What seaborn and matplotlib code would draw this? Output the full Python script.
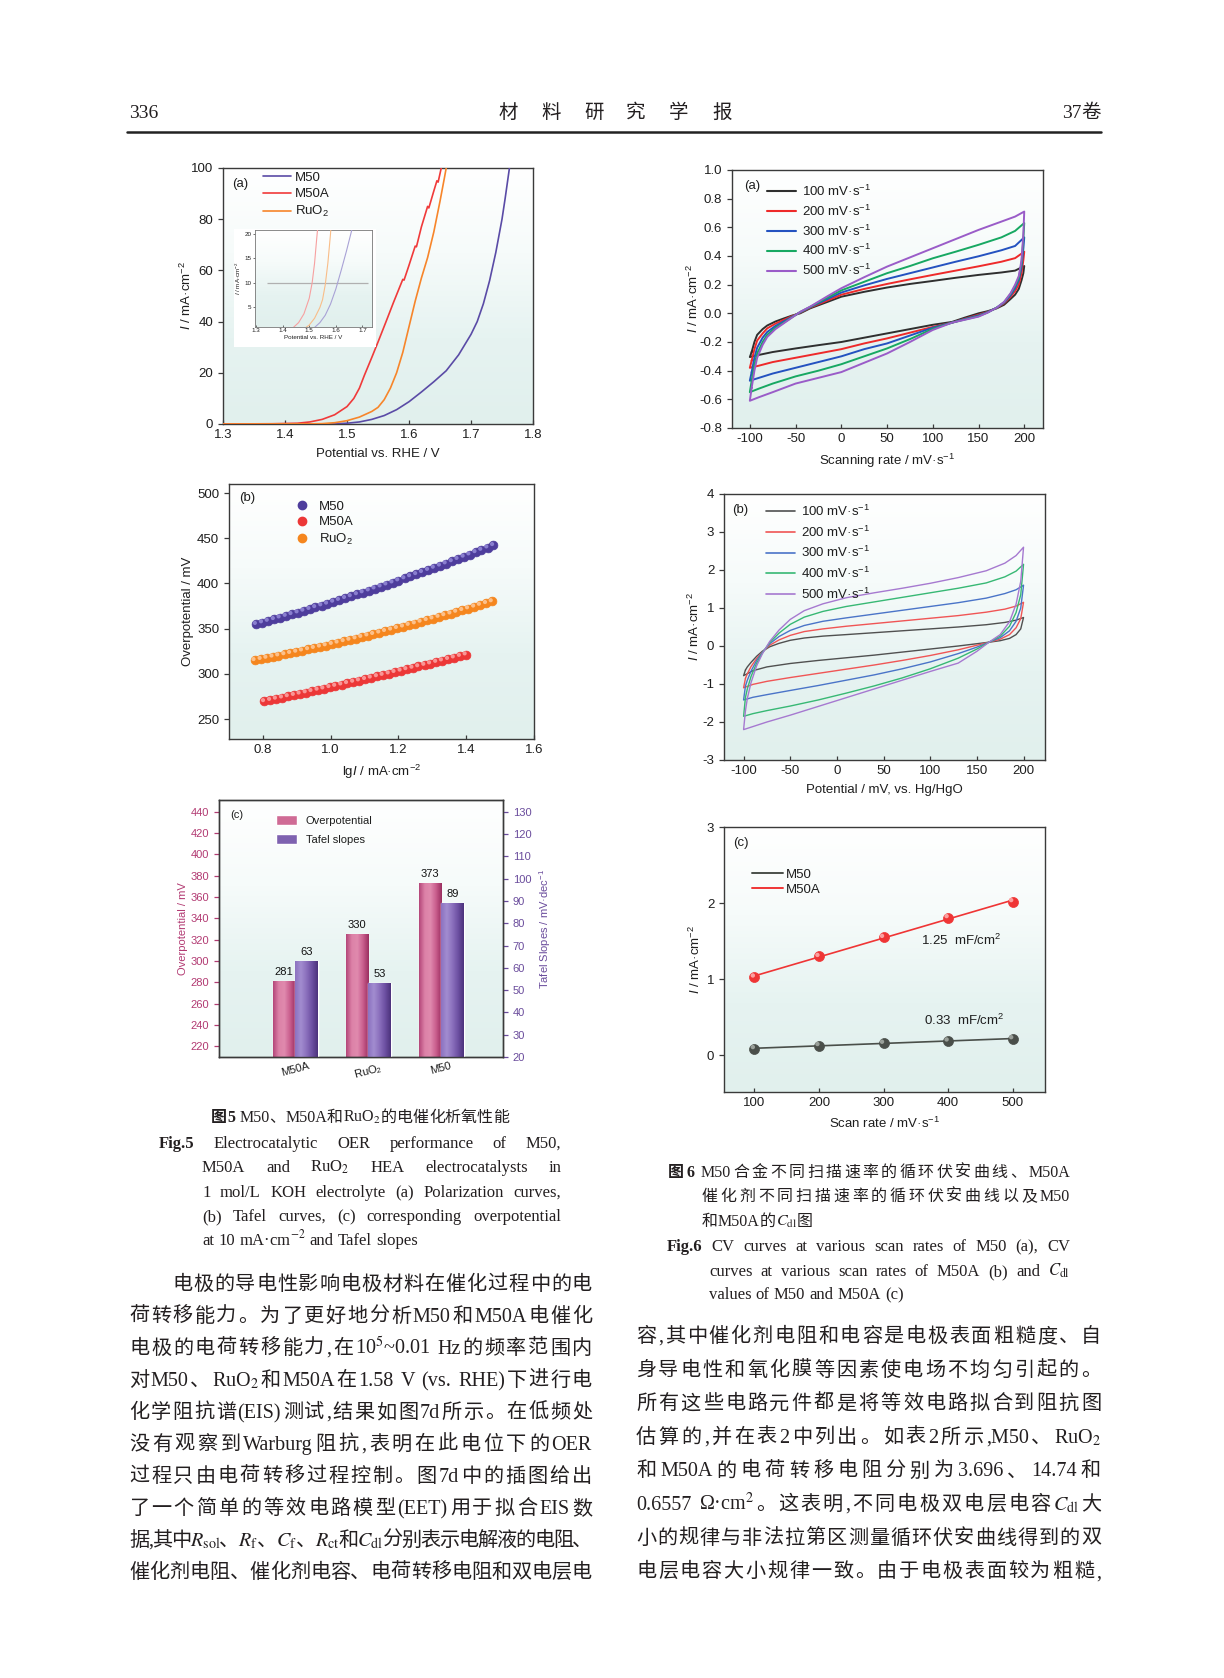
import numpy as np
import pandas as pd
import matplotlib
matplotlib.use("Agg")
import matplotlib.pyplot as plt
import seaborn as sns
from matplotlib.colors import LinearSegmentedColormap
from matplotlib.lines import Line2D
from matplotlib.patches import Patch, Rectangle
from matplotlib.transforms import ScaledTranslation

# ======================= DATA =======================
# Fig.5(a) polarization curves (potential V vs RHE, current mA/cm2)
pol_m50a_v = [1.30, 1.38, 1.42, 1.44, 1.46, 1.48, 1.50, 1.511, 1.52, 1.528, 1.54, 1.55, 1.563, 1.575, 1.585,
              1.590, 1.592, 1.600, 1.610, 1.612, 1.620, 1.630, 1.632, 1.640, 1.645, 1.647, 1.652]
pol_m50a_i = [0, 0.1, 0.3, 0.8, 1.8, 3.6, 6.8, 10, 14, 19, 26, 32, 40, 47.5, 53.5,
              56.5, 56.2, 62, 69.5, 69.2, 77, 85, 84.4, 91, 95, 94.5, 100]
pol_ruo2_v = [1.30, 1.44, 1.46, 1.48, 1.50, 1.52, 1.54, 1.55, 1.56, 1.57, 1.58, 1.59, 1.60, 1.61, 1.62,
              1.63, 1.64, 1.65, 1.657, 1.66]
pol_ruo2_i = [0, 0.05, 0.15, 0.5, 1.3, 2.7, 4.9, 6.5, 9.5, 14, 20, 28, 38, 48, 57, 65, 75, 87, 96, 100]
pol_m50_v = [1.30, 1.45, 1.48, 1.50, 1.52, 1.54, 1.56, 1.58, 1.60, 1.62, 1.64, 1.66, 1.68, 1.70, 1.71,
             1.72, 1.73, 1.74, 1.75, 1.755, 1.762]
pol_m50_i = [0, 0.02, 0.1, 0.3, 0.8, 1.8, 3.3, 5.6, 8.7, 12.5, 16.5, 20.8, 27, 35, 40,
             47, 56, 67, 80, 88, 100]

# Fig.5(b) Tafel plots (lg I, overpotential mV)
taf_m50_x = [0.780, 0.798, 0.815, 0.833, 0.850, 0.868, 0.885, 0.903, 0.920, 0.938, 0.955, 0.973, 0.990, 1.008,
             1.025, 1.043, 1.060, 1.078, 1.095, 1.113, 1.130, 1.148, 1.165, 1.183, 1.200, 1.218, 1.235, 1.253,
             1.270, 1.288, 1.305, 1.323, 1.340, 1.358, 1.375, 1.393, 1.410, 1.428, 1.445, 1.463, 1.480]
taf_m50_y = [355.0, 356.8, 358.5, 360.4, 362.2, 364.0, 365.9, 367.8, 369.7, 371.6, 373.6, 375.6, 377.5, 379.6,
             381.6, 383.7, 385.7, 387.9, 390.0, 392.1, 394.3, 396.5, 398.7, 400.9, 403.2, 405.5, 407.8, 410.1,
             412.4, 414.8, 417.2, 419.6, 422.0, 424.4, 426.9, 429.4, 431.9, 434.4, 437.0, 439.6, 442.2]
taf_ruo2_x = [0.776, 0.794, 0.811, 0.829, 0.846, 0.864, 0.881, 0.899, 0.916, 0.934, 0.951, 0.969, 0.986, 1.004,
              1.021, 1.039, 1.056, 1.074, 1.091, 1.109, 1.126, 1.144, 1.161, 1.179, 1.196, 1.214, 1.231, 1.249,
              1.266, 1.284, 1.301, 1.319, 1.336, 1.354, 1.371, 1.389, 1.406, 1.424, 1.441, 1.459, 1.476]
taf_ruo2_y = [315.0, 316.3, 317.6, 318.9, 320.2, 321.5, 322.9, 324.3, 325.7, 327.1, 328.5, 330.0, 331.4, 332.9,
              334.4, 336.0, 337.5, 339.1, 340.7, 342.3, 343.9, 345.5, 347.2, 348.8, 350.5, 352.2, 354.0, 355.7,
              357.5, 359.3, 361.1, 362.9, 364.7, 366.6, 368.5, 370.4, 372.3, 374.2, 376.2, 378.1, 380.1]
taf_m50a_x = [0.804, 0.822, 0.839, 0.857, 0.874, 0.892, 0.909, 0.927, 0.944, 0.962, 0.979, 0.997, 1.014, 1.032,
              1.049, 1.067, 1.084, 1.102, 1.119, 1.137, 1.154, 1.172, 1.189, 1.207, 1.224, 1.242, 1.259, 1.277,
              1.294, 1.312, 1.329, 1.347, 1.364, 1.382, 1.399]
taf_m50a_y = [269.6, 271.0, 272.4, 273.7, 275.1, 276.5, 278.0, 279.4, 280.8, 282.3, 283.7, 285.2, 286.6, 288.1,
              289.6, 291.1, 292.6, 294.1, 295.7, 297.2, 298.7, 300.3, 301.9, 303.4, 305.0, 306.6, 308.2, 309.8,
              311.4, 313.1, 314.7, 316.3, 318.0, 319.7, 321.3]

# Fig.5(c) bars
bar_cats = ["M50A", "RuO$_2$", "M50"]
bar_overpot = [281, 325, 373]
bar_overpot_labels = ["281", "330", "373"]
bar_tafel = [63, 53, 89]

# Fig.6(a) CV of M50 (potential mV, current mA/cm2): anodic branch then cathodic branch
cva_up_pot = [-98, -95, -92, -86, -81, -72, -63, -54, -45, -34, -15, 0, 25, 50, 75, 100, 125, 150, 175, 190, 200]
cva_dn_pot = [199, 197, 194, 190, 185, 178, 170, 160, 150, 135, 121, 100, 75, 50, 25, 0, -25, -50, -75, -90, -100]
cva_100_up = [-0.27, -0.20, -0.15, -0.11, -0.085, -0.057, -0.036, -0.016, 0.0, 0.035, 0.08, 0.116, 0.15, 0.18, 0.205,
              0.226, 0.248, 0.268, 0.285, 0.298, 0.33]
cva_200_up = [-0.33, -0.25, -0.19, -0.14, -0.105, -0.072, -0.046, -0.02, 0.005, 0.04, 0.09, 0.13, 0.17, 0.205, 0.237,
              0.268, 0.298, 0.328, 0.36, 0.385, 0.43]
cva_300_up = [-0.41, -0.31, -0.24, -0.17, -0.13, -0.088, -0.056, -0.025, 0.007, 0.043, 0.10, 0.145, 0.195, 0.24,
              0.28, 0.32, 0.36, 0.398, 0.44, 0.47, 0.53]
cva_400_up = [-0.47, -0.36, -0.28, -0.20, -0.15, -0.10, -0.065, -0.028, 0.009, 0.045, 0.11, 0.16, 0.22, 0.28, 0.33,
              0.384, 0.43, 0.478, 0.53, 0.575, 0.63]
cva_500_up = [-0.52, -0.40, -0.31, -0.22, -0.165, -0.11, -0.07, -0.03, 0.01, 0.047, 0.12, 0.175, 0.252, 0.326, 0.39,
              0.454, 0.518, 0.582, 0.64, 0.675, 0.71]
cva_100_dn = [0.28, 0.23, 0.17, 0.13, 0.10, 0.06, 0.035, 0.015, 0.0, -0.03, -0.06, -0.08, -0.11, -0.14, -0.17, -0.2,
              -0.222, -0.245, -0.27, -0.29, -0.305]
cva_200_dn = [0.37, 0.28, 0.2, 0.155, 0.115, 0.07, 0.038, 0.01, -0.01, -0.038, -0.065, -0.095, -0.135, -0.175, -0.21,
              -0.25, -0.28, -0.31, -0.34, -0.365, -0.38]
cva_300_dn = [0.45, 0.32, 0.23, 0.175, 0.125, 0.075, 0.04, 0.008, -0.015, -0.04, -0.065, -0.10, -0.155, -0.21, -0.25,
              -0.30, -0.34, -0.38, -0.42, -0.45, -0.47]
cva_400_dn = [0.52, 0.35, 0.245, 0.19, 0.135, 0.078, 0.04, 0.006, -0.02, -0.043, -0.065, -0.108, -0.18, -0.245, -0.30,
              -0.355, -0.40, -0.44, -0.49, -0.525, -0.55]
cva_500_dn = [0.55, 0.37, 0.26, 0.20, 0.14, 0.08, 0.04, 0.005, -0.023, -0.045, -0.065, -0.116, -0.20, -0.28, -0.345,
              -0.41, -0.45, -0.49, -0.55, -0.585, -0.61]

# Fig.6(b) CV of M50A
cvb_up_pot = [-98, -96, -92, -86, -80, -72, -62, -50, -35, -15, 10, 40, 70, 100, 130, 160, 180, 192, 200]
cvb_dn_pot = [197, 192, 185, 175, 163, 150, 130, 100, 70, 40, 10, -20, -50, -75, -90, -100]
cvb_100_up = [-0.63, -0.55, -0.43, -0.27, -0.14, -0.02, 0.07, 0.15, 0.21, 0.26, 0.30, 0.35, 0.40, 0.45, 0.50, 0.56,
              0.62, 0.68, 0.75]
cvb_200_up = [-0.85, -0.73, -0.54, -0.33, -0.16, 0.02, 0.16, 0.28, 0.38, 0.45, 0.52, 0.59, 0.66, 0.73, 0.80, 0.89,
              0.97, 1.05, 1.15]
cvb_300_up = [-1.05, -0.90, -0.66, -0.38, -0.17, 0.06, 0.25, 0.41, 0.54, 0.65, 0.74, 0.84, 0.94, 1.04, 1.14, 1.26,
              1.38, 1.48, 1.60]
cvb_400_up = [-1.35, -1.13, -0.80, -0.45, -0.19, 0.09, 0.34, 0.57, 0.76, 0.91, 1.04, 1.16, 1.28, 1.40, 1.52, 1.66,
              1.82, 1.97, 2.15]
cvb_500_up = [-1.70, -1.38, -0.96, -0.52, -0.21, 0.12, 0.42, 0.70, 0.93, 1.11, 1.27, 1.40, 1.52, 1.65, 1.80, 1.98,
              2.18, 2.38, 2.60]
cvb_100_dn = [0.45, 0.30, 0.20, 0.14, 0.10, 0.06, 0.0, -0.08, -0.16, -0.24, -0.31, -0.38, -0.46, -0.55, -0.65, -0.78]
cvb_200_dn = [0.72, 0.48, 0.30, 0.18, 0.10, 0.02, -0.10, -0.25, -0.38, -0.50, -0.61, -0.72, -0.83, -0.93, -1.01, -1.10]
cvb_300_dn = [1.00, 0.65, 0.40, 0.22, 0.10, -0.03, -0.20, -0.42, -0.60, -0.76, -0.90, -1.04, -1.17, -1.28, -1.35, -1.42]
cvb_400_dn = [1.35, 0.88, 0.52, 0.26, 0.10, -0.08, -0.32, -0.60, -0.84, -1.05, -1.24, -1.42, -1.58, -1.70, -1.78, -1.85]
cvb_500_dn = [1.70, 1.10, 0.64, 0.30, 0.10, -0.14, -0.45, -0.67, -0.90, -1.13, -1.36, -1.59, -1.82, -2.00, -2.12, -2.20]

cv_rates = ["100", "200", "300", "400", "500"]

# Fig.6(c) Cdl
cdl_rate = [100, 200, 300, 400, 500]
cdl_m50 = [0.09, 0.13, 0.16, 0.19, 0.22]
cdl_m50a = [1.03, 1.30, 1.55, 1.81, 2.02]

# ======================= TEXT =======================
header_left = "336"
header_title = ["材", "料", "研", "究", "学", "报"]
header_right = "37卷"

cap5_cn = "图5 M50、M50A和RuO$_2$的电催化析氧性能"
cap5_en = ["Fig.5 Electrocatalytic OER performance of M50,",
           "M50A and RuO$_2$ HEA electrocatalysts in",
           "1 mol/L KOH electrolyte (a) Polarization curves,",
           "(b) Tafel curves, (c) corresponding overpotential",
           "at 10 mA·cm$^{-2}$ and Tafel slopes"]
cap6_cn = ["图6 M50合金不同扫描速率的循环伏安曲线、M50A",
           "催化剂不同扫描速率的循环伏安曲线以及M50",
           "和M50A的$C_\\mathrm{dl}$图"]
cap6_en = ["Fig.6 CV curves at various scan rates of M50 (a), CV",
           "curves at various scan rates of M50A (b) and $C_\\mathrm{dl}$",
           "values of M50 and M50A (c)"]
body_left = ["电极的导电性影响电极材料在催化过程中的电",
             "荷转移能力。为了更好地分析M50和M50A电催化",
             "电极的电荷转移能力,在10$^5$~0.01 Hz的频率范围内",
             "对M50、RuO$_2$和M50A在1.58 V (vs. RHE)下进行电",
             "化学阻抗谱(EIS)测试,结果如图7d所示。在低频处",
             "没有观察到Warburg阻抗,表明在此电位下的OER",
             "过程只由电荷转移过程控制。图7d中的插图给出",
             "了一个简单的等效电路模型(EET)用于拟合EIS数",
             "据,其中$R_\\mathrm{sol}$、$R_\\mathrm{f}$、$C_\\mathrm{f}$、$R_\\mathrm{ct}$和$C_\\mathrm{dl}$分别表示电解液的电阻、",
             "催化剂电阻、催化剂电容、电荷转移电阻和双电层电"]
body_right = ["容,其中催化剂电阻和电容是电极表面粗糙度、自",
              "身导电性和氧化膜等因素使电场不均匀引起的。",
              "所有这些电路元件都是将等效电路拟合到阻抗图",
              "估算的,并在表2中列出。如表2所示,M50、RuO$_2$",
              "和M50A的电荷转移电阻分别为3.696、14.74和",
              "0.6557 Ω·cm$^2$。这表明,不同电极双电层电容$C_\\mathrm{dl}$大",
              "小的规律与非法拉第区测量循环伏安曲线得到的双",
              "电层电容大小规律一致。由于电极表面较为粗糙,"]

# ======================= STYLE =======================
sns.set_theme(style="ticks")
plt.rcParams['font.family'] = ['Liberation Sans', 'Noto Sans CJK SC', 'DejaVu Sans']
plt.rcParams.update({
    'mathtext.fontset': 'custom', 'mathtext.rm': 'Liberation Sans',
    'mathtext.it': 'Liberation Sans:italic', 'mathtext.bf': 'Liberation Sans:bold',
    'axes.unicode_minus': False, 'axes.edgecolor': '#3a3a3a', 'axes.linewidth': 1.0,
    'xtick.color': '#3a3a3a', 'ytick.color': '#3a3a3a', 'xtick.labelcolor': '#1e1e1e',
    'ytick.labelcolor': '#1e1e1e', 'text.color': '#1e1e1e', 'axes.labelcolor': '#1e1e1e',
    'xtick.major.size': 3.0, 'ytick.major.size': 3.5, 'xtick.major.width': 0.9, 'ytick.major.width': 0.9,
    'xtick.direction': 'in', 'ytick.direction': 'out', 'axes.facecolor': 'white',
    'xtick.labelsize': 9.5, 'ytick.labelsize': 9.5, 'axes.labelsize': 9.5,
})
SERIF = ['Liberation Serif', 'Noto Sans CJK SC', 'DejaVu Serif']
TXT = '#231f20'

W, H = 1224, 1678
fig = plt.figure(figsize=(W / 100, H / 100), dpi=100)
fig.patch.set_facecolor('white')
renderer = fig.canvas.get_renderer()


def px_axes(l, t, r, b, **kw):
    return fig.add_axes([l / W, 1 - b / H, (r - l) / W, (b - t) / H], **kw)


bg_cmap = LinearSegmentedColormap.from_list('bg', ['#ffffff', '#f6fbfa', '#e6f3f1', '#e1f0ed'])


def add_bg(ax):
    g = np.linspace(0, 1, 256).reshape(-1, 1)
    ax.imshow(g, extent=(0, 1, 0, 1), transform=ax.transAxes, origin='upper', aspect='auto',
              cmap=bg_cmap, zorder=0, interpolation='bilinear')


def lab(ax, s, x, y, size=9.5):
    ax.text(x, y, s, transform=ax.transAxes, ha='left', va='center', fontsize=size, zorder=6)


# ---------------- Fig.5(a) ----------------
C_M50, C_M50A, C_RUO2 = '#5a4ba6', '#f03a3a', '#f7852a'
ax = px_axes(223, 168, 533, 424)
add_bg(ax)
for v, i, c in [(pol_m50_v, pol_m50_i, C_M50), (pol_m50a_v, pol_m50a_i, C_M50A), (pol_ruo2_v, pol_ruo2_i, C_RUO2)]:
    sns.lineplot(x=v, y=i, ax=ax, color=c, lw=1.2, sort=False, estimator=None, zorder=3)
ax.set_xlim(1.3, 1.8)
ax.set_ylim(0, 100)
ax.set_xticks([1.3, 1.4, 1.5, 1.6, 1.7, 1.8])
ax.set_yticks([0, 20, 40, 60, 80, 100])
ax.set_xlabel("Potential vs. RHE / V", labelpad=5)
ax.set_ylabel("$I$ / mA·cm$^{-2}$", labelpad=-2)
lab(ax, "(a)", 0.029, 0.939)
hs = [Line2D([], [], color=c, lw=1.2) for c in (C_M50, C_M50A, C_RUO2)]
ax.legend(hs, ["M50", "M50A", "RuO$_2$"], loc='upper left', bbox_to_anchor=(0.13, 0.985), frameon=False,
          fontsize=9.5, handlelength=2.1, handletextpad=0.3, labelspacing=0.3, borderpad=0, borderaxespad=0)
ax.add_patch(Rectangle(((234 - 223) / 310, 1 - (347 - 168) / 256), (376 - 234) / 310, (347 - 229) / 256,
                       transform=ax.transAxes, facecolor='white', edgecolor='none', zorder=5, clip_on=False))
# inset
axi = px_axes(255, 230, 372, 327, zorder=3)
add_bg(axi)
for v, i, c in [(pol_m50_v, pol_m50_i, '#a9a2d6'), (pol_m50a_v, pol_m50a_i, '#f7a0a0'), (pol_ruo2_v, pol_ruo2_i, '#f9bd88')]:
    sns.lineplot(x=v, y=i, ax=axi, color=c, lw=0.8, sort=False, estimator=None, zorder=3)
axi.hlines(10, 1.34, 1.72, color='#b0b0b0', lw=0.9, zorder=2)
axi.set_xlim(1.296, 1.736)
axi.set_ylim(0.9, 20.8)
axi.set_xticks([1.3, 1.4, 1.5, 1.6, 1.7])
axi.set_yticks([5, 10, 15, 20])
axi.tick_params(labelsize=4.5, length=1.5, width=0.5, pad=1)
for s in axi.spines.values():
    s.set_linewidth(0.6)
    s.set_color('#777777')
axi.set_xlabel("Potential vs. RHE / V", fontsize=4.5, labelpad=1)
axi.set_ylabel("$I$ / mA·cm$^{-2}$", fontsize=4.5, labelpad=1)

# ---------------- Fig.5(b) ----------------
ax = px_axes(229, 484, 534, 739)
add_bg(ax)
for x, y, c, hc in [(taf_m50_x, taf_m50_y, '#4e3d9c', '#8a7fd0'), (taf_ruo2_x, taf_ruo2_y, '#f5861e', '#fcc08a'),
                    (taf_m50a_x, taf_m50a_y, '#ec3737', '#f99595')]:
    sns.scatterplot(x=x, y=y, ax=ax, s=40, color=c, edgecolor=c, linewidth=0.5, zorder=3)
    sns.scatterplot(x=x, y=y, ax=ax, s=9, color=hc, edgecolor='none', linewidth=0, zorder=4)
    ax.collections[-1].set_offset_transform(ax.transData + ScaledTranslation(-0.9 / 72, 0.9 / 72, fig.dpi_scale_trans))
ax.set_xlim(0.7, 1.6)
ax.set_ylim(228, 510)
ax.set_xticks([0.8, 1.0, 1.2, 1.4, 1.6])
ax.set_yticks([250, 300, 350, 400, 450, 500])
ax.set_xlabel("lg$I$ / mA·cm$^{-2}$", labelpad=5)
ax.set_ylabel("Overpotential / mV", labelpad=2)
lab(ax, "(b)", 0.034, 0.945)
hs = [Line2D([], [], ls='', marker='o', ms=6, color=c) for c in ('#4e3d9c', '#ec3737', '#f5861e')]
ax.legend(hs, ["M50", "M50A", "RuO$_2$"], loc='upper left', bbox_to_anchor=(0.218, 0.935), frameon=False,
          fontsize=9.5, handlelength=1.0, handletextpad=0.8, labelspacing=0.25, borderpad=0, borderaxespad=0)

# ---------------- Fig.5(c) ----------------
PINK, PURP = '#b23a72', '#6a4c9c'
ax = px_axes(219, 800, 503, 1057)
add_bg(ax)
ax2 = ax.twinx()
pos_over = [k - 0.155 for k in range(len(bar_cats))]
pos_taf = [k + 0.155 for k in range(len(bar_cats))]
sns.barplot(x=pos_over, y=bar_overpot, ax=ax, native_scale=True, width=0.31, color='#cf6b95', saturation=1, zorder=2)
sns.barplot(x=pos_taf, y=bar_tafel, ax=ax2, native_scale=True, width=0.31, color='#7e62b0', saturation=1, zorder=2)
cm_pink = LinearSegmentedColormap.from_list('pk', ['#b4477a', '#dc82a8', '#e08aae', '#c95d8d', '#9b2f60'])
cm_purp = LinearSegmentedColormap.from_list('pu', ['#8c72c0', '#a28dd0', '#8b70bd', '#6d50a2', '#4c337c'])
grad = np.linspace(0, 1, 64).reshape(1, -1)
for a, cm in [(ax, cm_pink), (ax2, cm_purp)]:
    for p in list(a.patches):
        x0, w, h = p.get_x(), p.get_width(), p.get_height()
        a.imshow(grad, extent=(x0, x0 + w, 0, h), aspect='auto', cmap=cm, zorder=2.5, interpolation='bilinear')
ax.bar_label(ax.containers[0], labels=bar_overpot_labels, padding=3, fontsize=8, color='#111111')
ax2.bar_label(ax2.containers[0], labels=[str(v) for v in bar_tafel], padding=3, fontsize=8, color='#111111')
ax.set_xlim(-1.05, 2.85)
ax2.set_xlim(-1.05, 2.85)
ax.set_ylim(210, 451)
ax2.set_ylim(20, 135.3)
ax.set_yticks(list(range(220, 441, 20)))
ax2.set_yticks(list(range(20, 131, 10)))
ax.set_xticks(range(len(bar_cats)))
ax.set_xticklabels(bar_cats, rotation=15, fontsize=8)
ax.tick_params(axis='x', length=0, pad=3)
ax.tick_params(axis='y', colors=PINK, labelsize=8, labelcolor=PINK)
ax2.tick_params(axis='y', colors=PURP, labelsize=8, labelcolor=PURP)
ax.set_ylabel("Overpotential / mV", color=PINK, fontsize=8, labelpad=2)
ax2.set_ylabel("Tafel Slopes / mV·dec$^{-1}$", color=PURP, fontsize=8, labelpad=4)
ax.set_xlabel("")
ax2.set_xlabel("")
lab(ax, "(c)", 0.039, 0.942, size=8)
hs = [Patch(facecolor='#cf6b95'), Patch(facecolor='#7e62b0')]
ax2.legend(hs, ["Overpotential", "Tafel slopes"], loc='upper left', bbox_to_anchor=(0.2, 0.942), frameon=False,
           fontsize=8, handlelength=1.94, handleheight=1.05, handletextpad=0.75, labelspacing=0.75,
           borderpad=0, borderaxespad=0)


# ---------------- Fig.6 (a),(b) CV ----------------
CV_COL_A = ['#2f2f2f', '#ee2a2a', '#2452c0', '#17a862', '#9a5cc8']
CV_COL_B = ['#505050', '#f05555', '#4a74c8', '#37b874', '#a679d0']


def cv_panel(ax, up_pot, dn_pot, ups, dns, cols, lw):
    for up, dn, c in zip(ups, dns, cols):
        pot = up_pot + dn_pot + [up_pot[0]]
        cur = up + dn + [up[0]]
        sns.lineplot(x=pot, y=cur, ax=ax, color=c, lw=lw, sort=False, estimator=None, zorder=3)


ax = px_axes(732, 170, 1043, 428)
add_bg(ax)
cv_panel(ax, cva_up_pot, cva_dn_pot, [cva_100_up, cva_200_up, cva_300_up, cva_400_up, cva_500_up],
         [cva_100_dn, cva_200_dn, cva_300_dn, cva_400_dn, cva_500_dn], CV_COL_A, 1.4)
ax.set_xlim(-119.5, 220.5)
ax.set_ylim(-0.8, 1.0)
ax.set_xticks([-100, -50, 0, 50, 100, 150, 200])
ax.set_yticks([-0.8, -0.6, -0.4, -0.2, 0.0, 0.2, 0.4, 0.6, 0.8, 1.0])
ax.set_xlabel("Scanning rate / mV·s$^{-1}$", labelpad=5)
ax.set_ylabel("$I$ / mA·cm$^{-2}$", labelpad=-1)
lab(ax, "(a)", 0.038, 0.938)
hs = [Line2D([], [], color=c, lw=1.5) for c in CV_COL_A]
ax.legend(hs, [r + " mV·s$^{-1}$" for r in cv_rates], loc='upper left', bbox_to_anchor=(0.112, 0.948),
          frameon=False, fontsize=9.5, handlelength=2.2, handletextpad=0.45, labelspacing=0.36,
          borderpad=0, borderaxespad=0)

ax = px_axes(724, 494, 1045, 760)
add_bg(ax)
cv_panel(ax, cvb_up_pot, cvb_dn_pot, [cvb_100_up, cvb_200_up, cvb_300_up, cvb_400_up, cvb_500_up],
         [cvb_100_dn, cvb_200_dn, cvb_300_dn, cvb_400_dn, cvb_500_dn], CV_COL_B, 1.0)
ax.set_xlim(-121, 223)
ax.set_ylim(-3, 4)
ax.set_xticks([-100, -50, 0, 50, 100, 150, 200])
ax.set_yticks([-3, -2, -1, 0, 1, 2, 3, 4])
ax.set_xlabel("Potential / mV, vs. Hg/HgO", labelpad=5)
ax.set_ylabel("$I$ / mA·cm$^{-2}$", labelpad=0)
lab(ax, "(b)", 0.025, 0.939)
hs = [Line2D([], [], color=c, lw=1.2) for c in CV_COL_B]
ax.legend(hs, [r + " mV·s$^{-1}$" for r in cv_rates], loc='upper left', bbox_to_anchor=(0.13, 0.964),
          frameon=False, fontsize=9.5, handlelength=2.2, handletextpad=0.5, labelspacing=0.42,
          borderpad=0, borderaxespad=0)

# ---------------- Fig.6(c) ----------------
ax = px_axes(724, 827, 1045, 1092)
add_bg(ax)
C_R, C_G = '#ef3535', '#4a4f4a'
for y, c, hc in [(cdl_m50, C_G, '#9aa09a'), (cdl_m50a, C_R, '#fba0a0')]:
    sns.regplot(x=cdl_rate, y=y, ax=ax, scatter=False, ci=None, color=c, line_kws={'lw': 1.2, 'zorder': 3})
    sns.scatterplot(x=cdl_rate, y=y, ax=ax, s=52, color=c, edgecolor=c, linewidth=0.5, zorder=4)
    sns.scatterplot(x=cdl_rate, y=y, ax=ax, s=10, color=hc, edgecolor='none', linewidth=0, zorder=5)
    ax.collections[-1].set_offset_transform(ax.transData + ScaledTranslation(-1.1 / 72, 1.1 / 72, fig.dpi_scale_trans))
ax.set_xlim(53, 550)
ax.set_ylim(-0.48, 3)
ax.set_xticks([100, 200, 300, 400, 500])
ax.set_yticks([0, 1, 2, 3])
ax.set_xlabel("Scan rate / mV·s$^{-1}$", labelpad=5)
ax.set_ylabel("$I$ / mA·cm$^{-2}$", labelpad=3)
lab(ax, "(c)", 0.028, 0.94)
ax.text(358, 1.51, "1.25  mF/cm$^2$", fontsize=9.5, ha='left', va='center')
ax.text(363, 0.46, "0.33  mF/cm$^2$", fontsize=9.5, ha='left', va='center')
hs = [Line2D([], [], color=C_G, lw=1.4), Line2D([], [], color=C_R, lw=1.4)]
ax.legend(hs, ["M50", "M50A"], loc='upper left', bbox_to_anchor=(0.088, 0.843), frameon=False, fontsize=9.5,
          handlelength=2.3, handletextpad=0.25, labelspacing=0.2, borderpad=0, borderaxespad=0)


# ======================= PAGE TEXT =======================
def is_cjk(ch):
    o = ord(ch)
    return (0x2E80 <= o <= 0x9FFF) or (0x3000 <= o <= 0x303F) or (0xFF00 <= o <= 0xFFEF)


def tokenize(s):
    toks, buf, sp, in_math = [], '', False, False
    for ch in s:
        if in_math:
            buf += ch
            if ch == '$':
                in_math = False
            continue
        if ch == '$':
            buf += ch
            in_math = True
            continue
        if ch == ' ':
            if buf:
                toks.append([buf, sp])
                buf = ''
            sp = True
            continue
        if is_cjk(ch):
            if buf:
                toks.append([buf, sp])
                buf = ''
                sp = False
            toks.append([ch, sp])
            sp = False
            continue
        buf += ch
    if buf:
        toks.append([buf, sp])
    return toks


def text_line(x0, x1, yc, s, size, mode='justify', nbold=0, family=SERIF, color=TXT):
    toks = tokenize(s)
    em = size * 100 / 72.0
    ybase = yc + 0.30 * em
    objs, widths = [], []
    for k, (t, sp) in enumerate(toks):
        o = fig.text(0, 1 - ybase / H, t, fontsize=size, family=family, color=color,
                     fontweight='bold' if k < nbold else 'normal', ha='left', va='baseline',
                     math_fontfamily='stix')
        objs.append(o)
        widths.append(o.get_window_extent(renderer).width)
    nat = [(0.25 * em if sp else 0.0) for (t, sp) in toks]
    nat[0] = 0.0
    total = sum(widths) + sum(nat)
    n = len(objs) - 1
    extra = 0.0
    if mode == 'justify' and n > 0:
        extra = ((x1 - x0) - total) / n
        start = x0
    elif mode == 'center':
        start = (x0 + x1) / 2 - total / 2
    elif mode == 'right':
        start = x1 - total
    else:
        start = x0
    x = start
    for k, o in enumerate(objs):
        if k > 0:
            x += nat[k] + extra
        o.set_x(x / W)
        x += widths[k]


# header
text_line(129, 129, 112, header_left, 14, mode='left')
text_line(1101, 1101, 112, header_right, 14, mode='right')
for ch, cx in zip(header_title, [508, 551, 594, 636, 679, 722]):
    text_line(cx, cx, 112, ch, 14, mode='center')
fig.add_artist(Line2D([127 / W, 1101 / W], [1 - 132 / H, 1 - 132 / H], lw=1.8, color='#222222'))

# Fig.5 caption
text_line(194, 526, 1117, cap5_cn, 11.5, mode='center', nbold=2)
cap5_x0 = [159, 202, 202, 202, 202]
cap5_y = [1143, 1167, 1192, 1216, 1240]
for k, (s, x0, y) in enumerate(zip(cap5_en, cap5_x0, cap5_y)):
    text_line(x0, 561, y, s, 12, mode='justify' if k < 4 else 'left', nbold=1 if k == 0 else 0)

# Fig.6 caption
cap6_cn_x0 = [668, 702, 702]
cap6_cn_y = [1172, 1196, 1221]
for k, (s, x0, y) in enumerate(zip(cap6_cn, cap6_cn_x0, cap6_cn_y)):
    text_line(x0, 1070, y, s, 11.5, mode='justify' if k < 2 else 'left', nbold=2 if k == 0 else 0)
cap6_en_x0 = [667, 709, 709]
cap6_en_y = [1246, 1271, 1294]
for k, (s, x0, y) in enumerate(zip(cap6_en, cap6_en_x0, cap6_en_y)):
    text_line(x0, 1070, y, s, 12, mode='justify' if k < 2 else 'left', nbold=1 if k == 0 else 0)

# body text
for k, s in enumerate(body_left):
    text_line(172 if k == 0 else 129, 592, 1284 + 32.0 * k, s, 14.5, mode='justify')
for k, s in enumerate(body_right):
    text_line(636, 1101, 1336 + 33.6 * k, s, 14.5, mode='justify')

fig.savefig("out.png", dpi=100, facecolor='white')
